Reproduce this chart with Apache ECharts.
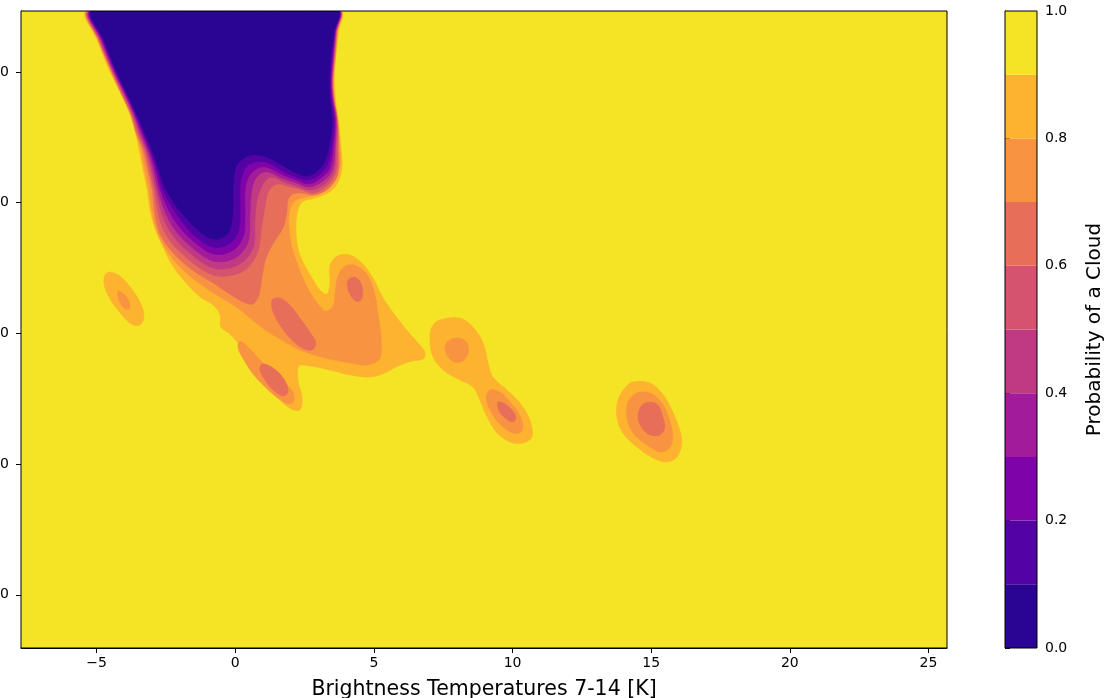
<!DOCTYPE html>
<html>
<head>
<meta charset="utf-8">
<title>Probability of a Cloud</title>
<script src="https://cdn.jsdelivr.net/npm/echarts@6/dist/echarts.min.js"></script>
<style>
  html, body { margin: 0; padding: 0; background: #fff; }
  #chart { width: 1109px; height: 698px; }
</style>
</head>
<body>
<div id="chart"></div>
<script>
// Field extent (brightness temperature difference, brightness temperature)
const fieldX = [-7.73, 25.67];
const fieldY = [245.93, 294.67];

// Axis ticks
const xTicks = [-5, 0, 5, 10, 15, 20, 25];
const yTicks = [250, 260, 270, 280, 290];

// Contour levels and plasma band colours (one colour per band)
const levels = [0, 0.1, 0.2, 0.3, 0.4, 0.5, 0.6, 0.7, 0.8, 0.9, 1.0];
const bandColors = ['#2a0593', '#5302a3', '#7e03a8', '#a11b9b', '#c03a83',
                    '#d5536f', '#e76f5a', '#f89441', '#fdb32f', '#f4e425'];

// Regions where the probability is below each level, [x, y] outlines
const below10 = [
  [[-5.13,294.67],[-4.73,292.45],[-4.27,290.00],[-3.87,288.24],[-3.54,286.71],[-3.26,285.33],[-3.00,284.03],[-2.79,282.73],[-2.57,281.36],[-2.28,280.21],[-1.81,278.91],[-1.27,277.76],[-0.80,277.22],[-0.37,277.45],[-0.16,278.22],[-0.08,279.67],[-0.08,281.36],[-0.01,282.49],[0.17,283.19],[0.60,283.65],[1.11,283.50],[1.68,282.88],[2.19,282.27],[2.59,282.04],[2.95,282.42],[3.23,283.19],[3.41,284.64],[3.49,286.33],[3.41,288.01],[3.38,289.39],[3.45,291.30],[3.56,293.06],[3.67,294.67]]
];
const below20 = [
  [[-5.16,294.67],[-4.77,292.45],[-4.30,290.00],[-3.91,288.24],[-3.58,286.71],[-3.31,285.33],[-3.06,284.03],[-2.84,282.66],[-2.61,280.97],[-2.35,279.90],[-1.96,278.68],[-1.45,277.45],[-0.80,276.61],[-0.23,276.84],[0.10,277.76],[0.17,279.44],[0.17,281.13],[0.24,282.12],[0.42,282.81],[0.71,283.11],[1.11,283.11],[1.65,282.49],[2.19,281.97],[2.62,281.74],[3.02,282.12],[3.31,282.88],[3.49,284.49],[3.56,286.33],[3.45,288.01],[3.43,289.39],[3.49,291.30],[3.58,293.06],[3.68,294.67]]
];
const below30 = [
  [[-5.18,294.67],[-4.81,292.45],[-4.34,290.00],[-3.94,288.24],[-3.62,286.71],[-3.36,285.33],[-3.11,284.03],[-2.90,282.66],[-2.70,280.97],[-2.46,279.67],[-2.10,278.37],[-1.56,277.15],[-0.80,276.08],[-0.12,276.31],[0.28,277.37],[0.35,279.29],[0.35,280.82],[0.46,281.89],[0.75,282.58],[1.11,282.73],[1.65,282.20],[2.19,281.74],[2.66,281.43],[3.09,281.89],[3.41,282.66],[3.54,284.41],[3.60,286.33],[3.49,288.01],[3.45,289.39],[3.52,291.30],[3.60,293.06],[3.70,294.67]]
];
const below40 = [
  [[-5.21,294.67],[-4.84,292.45],[-4.37,290.00],[-3.98,288.24],[-3.65,286.71],[-3.42,285.33],[-3.17,284.03],[-2.97,282.66],[-2.79,280.97],[-2.57,279.52],[-2.25,278.14],[-1.71,276.84],[-0.80,275.54],[-0.01,275.77],[0.46,276.99],[0.53,279.06],[0.57,280.59],[0.67,281.58],[0.89,282.20],[1.18,282.35],[1.68,281.89],[2.19,281.51],[2.69,281.20],[3.16,281.66],[3.49,282.49],[3.60,284.34],[3.63,286.33],[3.51,288.01],[3.47,289.39],[3.54,291.30],[3.62,293.06],[3.71,294.67]]
];
const below50 = [
  [[-5.23,294.67],[-4.88,292.45],[-4.41,290.00],[-4.01,288.24],[-3.69,286.71],[-3.47,285.33],[-3.22,284.03],[-3.04,282.66],[-2.86,280.97],[-2.68,279.37],[-2.39,277.91],[-1.85,276.53],[-0.80,275.00],[0.10,275.23],[0.64,276.53],[0.71,278.68],[0.78,280.21],[0.93,281.13],[1.11,281.74],[1.32,281.97],[1.76,281.58],[2.19,281.28],[2.73,280.97],[3.23,281.43],[3.56,282.42],[3.63,284.26],[3.65,286.33],[3.52,288.01],[3.49,289.39],[3.56,291.30],[3.63,293.06],[3.73,294.67]]
];
const below60 = [
  [[-5.26,294.67],[-4.92,292.45],[-4.43,290.00],[-4.05,288.24],[-3.73,286.71],[-3.52,285.33],[-3.27,284.03],[-3.11,282.66],[-2.93,280.97],[-2.79,279.21],[-2.54,277.68],[-1.99,276.23],[-0.80,274.47],[0.24,274.70],[0.78,276.08],[0.96,278.29],[1.07,279.67],[1.18,280.74],[1.36,281.28],[1.61,281.43],[1.97,281.20],[2.33,281.05],[2.80,280.74],[3.31,281.28],[3.63,282.35],[3.69,284.19],[3.67,286.33],[3.54,288.01],[3.51,289.39],[3.58,291.30],[3.65,293.06],[3.74,294.67]]
];
const below70 = [
  [[-5.28,294.67],[-4.93,292.45],[-4.46,290.00],[-4.09,288.24],[-3.76,286.71],[-3.58,285.33],[-3.33,284.03],[-3.18,282.66],[-3.00,280.97],[-2.90,279.14],[-2.68,277.45],[-2.14,275.92],[-1.45,274.70],[-0.80,273.86],[-0.26,273.09],[0.28,272.40],[0.64,272.25],[0.85,272.94],[0.96,274.24],[1.11,275.77],[1.40,276.99],[1.72,278.06],[1.86,279.29],[1.90,280.21],[2.08,280.67],[2.41,280.74],[2.87,280.59],[3.38,281.13],[3.70,282.20],[3.72,284.19],[3.69,286.33],[3.56,288.01],[3.52,289.39],[3.60,291.30],[3.67,293.06],[3.75,294.67]],
  [[1.32,272.56],[1.61,272.71],[1.97,272.17],[2.33,271.18],[2.69,270.11],[2.91,269.27],[2.77,268.73],[2.41,268.88],[1.97,269.65],[1.61,270.64],[1.36,271.64]],
  [[4.10,274.16],[4.31,274.31],[4.53,273.86],[4.60,273.09],[4.50,272.48],[4.28,272.56],[4.10,273.17],[4.03,273.78]],
  [[0.96,267.66],[1.25,267.51],[1.58,266.97],[1.83,266.21],[1.90,265.52],[1.72,265.21],[1.36,265.67],[1.07,266.43],[0.89,267.20]],
  [[9.47,264.75],[9.73,264.60],[10.01,264.06],[10.12,263.45],[9.98,263.22],[9.73,263.53],[9.51,264.06]],
  [[14.67,264.52],[14.96,264.75],[15.24,264.52],[15.42,263.61],[15.49,262.76],[15.31,262.23],[14.96,262.23],[14.67,262.76],[14.52,263.61]]
];
const below80 = [
  [[-5.31,294.67],[-4.95,292.45],[-4.48,290.00],[-4.12,288.39],[-3.80,286.94],[-3.60,285.56],[-3.40,284.03],[-3.26,282.49],[-3.11,280.97],[-3.00,279.29],[-2.82,277.76],[-2.43,276.23],[-1.89,274.85],[-1.27,273.78],[-0.62,272.86],[-0.01,272.10],[0.53,271.18],[1.07,270.26],[1.61,269.57],[2.33,268.73],[3.23,268.12],[4.14,267.74],[4.79,267.58],[5.22,268.12],[5.25,269.88],[5.15,271.41],[5.04,272.94],[4.79,274.39],[4.39,275.16],[3.96,275.16],[3.70,274.39],[3.60,273.17],[3.52,272.10],[3.27,271.71],[2.95,272.33],[2.59,273.55],[2.30,275.00],[2.05,276.53],[1.94,278.06],[1.97,279.44],[2.19,280.21],[2.69,280.51],[3.23,280.89],[3.56,281.58],[3.78,282.81],[3.78,284.19],[3.70,285.95],[3.58,287.86],[3.54,289.39],[3.62,291.30],[3.69,293.06],[3.77,294.67]],
  [[0.17,269.42],[0.53,268.81],[0.96,267.81],[1.40,266.89],[1.83,266.13],[2.08,265.52],[2.12,264.83],[1.94,264.60],[1.58,264.98],[1.11,265.82],[0.64,266.89],[0.31,267.96],[0.10,268.88]],
  [[-4.23,273.24],[-4.01,273.01],[-3.83,272.40],[-3.83,271.87],[-4.01,271.94],[-4.20,272.56]],
  [[7.74,269.50],[8.10,269.65],[8.36,269.27],[8.40,268.50],[8.21,267.89],[7.89,267.81],[7.63,268.35],[7.56,269.04]],
  [[9.19,265.67],[9.55,265.52],[9.91,264.75],[10.20,263.99],[10.38,262.99],[10.27,262.38],[9.91,262.46],[9.47,263.22],[9.19,264.14],[9.04,265.06]],
  [[14.48,265.44],[14.96,265.44],[15.39,264.67],[15.67,263.36],[15.78,262.07],[15.67,261.23],[15.31,260.93],[14.85,261.46],[14.34,262.38],[14.12,263.61],[14.16,264.75]]
];
const below90 = [
  [[-5.35,294.67],[-4.99,292.45],[-4.52,290.00],[-4.16,288.47],[-3.87,287.09],[-3.65,285.72],[-3.47,284.03],[-3.33,282.49],[-3.18,280.97],[-3.08,279.44],[-2.90,278.06],[-2.64,276.76],[-2.28,275.23],[-1.81,273.93],[-1.27,272.79],[-0.80,272.17],[-0.55,271.41],[-0.52,270.49],[-0.19,269.95],[0.24,268.88],[0.64,267.66],[1.07,266.28],[1.54,265.06],[2.01,264.22],[2.33,264.14],[2.41,265.06],[2.26,266.43],[2.30,267.51],[2.69,267.51],[3.41,267.20],[4.14,266.82],[4.86,266.66],[5.39,266.97],[5.87,267.51],[6.38,267.89],[6.77,268.04],[6.84,268.58],[6.59,269.27],[6.12,270.42],[5.65,271.71],[5.29,272.86],[4.97,274.24],[4.60,275.31],[4.14,276.00],[3.67,275.92],[3.41,275.16],[3.41,273.93],[3.31,273.01],[3.05,273.32],[2.77,274.24],[2.44,275.46],[2.26,276.53],[2.19,277.91],[2.23,279.21],[2.41,280.05],[2.87,280.36],[3.34,280.74],[3.67,281.43],[3.85,282.66],[3.81,284.19],[3.74,285.95],[3.62,287.86],[3.58,290.00],[3.72,293.06],[3.78,294.67]],
  [[-4.52,274.70],[-4.16,274.39],[-3.76,273.47],[-3.44,272.40],[-3.29,271.33],[-3.44,270.64],[-3.76,270.72],[-4.12,271.48],[-4.52,272.63],[-4.73,273.70],[-4.70,274.47]],
  [[7.38,271.03],[8.10,271.18],[8.57,270.49],[8.94,269.27],[9.12,267.74],[9.29,266.66],[9.80,265.67],[10.27,264.67],[10.63,263.36],[10.70,262.07],[10.38,261.61],[9.91,261.69],[9.44,262.38],[9.08,263.61],[8.82,264.90],[8.57,265.90],[8.10,266.43],[7.49,267.20],[7.13,268.19],[7.02,269.50],[7.09,270.49]],
  [[14.34,266.28],[14.96,266.21],[15.39,265.44],[15.75,264.14],[16.03,262.61],[16.11,261.61],[15.93,260.54],[15.56,260.16],[15.06,260.47],[14.48,261.31],[13.98,262.38],[13.76,263.61],[13.80,264.90],[14.05,265.82]]
];

const regionsByLevel = [below10, below20, below30, below40, below50,
                        below60, below70, below80, below90];

const xTitle = 'Brightness Temperatures 7-14 [K]';
const cbTitle = 'Probability of a Cloud';

// Draw outer (higher) levels first so inner regions sit on top
const contourItems = [];
for (let k = regionsByLevel.length - 1; k >= 0; k--) {
  regionsByLevel[k].forEach((_, i) => contourItems.push([k, i]));
}
const bandItems = bandColors.map((_, i) => [levels[i], levels[i + 1], i]);

const font = 'DejaVu Sans';
const chart = echarts.init(document.getElementById('chart'), null, { renderer: 'canvas' });

function clipBox(cs) {
  return [[cs.x, cs.y], [cs.x + cs.width, cs.y + cs.height]];
}

chart.setOption({
  animation: false,
  backgroundColor: '#fff',
  grid: [
    { left: 21, top: 11, right: 162, bottom: 50, containLabel: false, outerBoundsMode: 'none',
      show: true, borderColor: '#000', borderWidth: 1, backgroundColor: 'transparent', z: 10 },
    { left: 1005, top: 11, width: 32, bottom: 50, containLabel: false, outerBoundsMode: 'none',
      show: true, borderColor: '#000', borderWidth: 1, backgroundColor: 'transparent', z: 10 }
  ],
  xAxis: [
    {
      type: 'value', gridIndex: 0, min: fieldX[0], max: fieldX[1],
      splitLine: { show: false },
      axisLine: { show: true, onZero: false, lineStyle: { color: '#000', width: 1 } },
      axisTick: { show: true, length: 5, inside: false, customValues: xTicks, lineStyle: { color: '#000' } },
      axisLabel: {
        customValues: xTicks, margin: 8, fontFamily: font, fontSize: 14, color: '#000',
        formatter: v => String(v).replace('-', '\u2212')
      },
      name: xTitle, nameLocation: 'middle', nameGap: 31,
      nameTextStyle: { fontFamily: font, fontSize: 20.5, color: '#000' }
    },
    {
      type: 'value', gridIndex: 1, min: 0, max: 1, show: false
    }
  ],
  yAxis: [
    {
      type: 'value', gridIndex: 0, min: fieldY[0], max: fieldY[1],
      splitLine: { show: false },
      axisLine: { show: true, onZero: false, lineStyle: { color: '#000', width: 1 } },
      axisTick: { show: true, length: 5, inside: false, customValues: yTicks, lineStyle: { color: '#000' } },
      axisLabel: { customValues: yTicks, margin: 12, fontFamily: font, fontSize: 14, color: '#000' }
    },
    {
      type: 'value', gridIndex: 1, min: 0, max: 1, interval: 0.2, position: 'right',
      splitLine: { show: false },
      axisLine: { show: true, lineStyle: { color: '#000', width: 1 } },
      axisTick: { show: true, length: 5, inside: false, lineStyle: { color: '#000' } },
      axisLabel: { margin: 8, fontFamily: font, fontSize: 14, color: '#000', formatter: v => v.toFixed(1) },
      name: cbTitle, nameLocation: 'middle', nameRotate: 90, nameGap: 48,
      nameTextStyle: { fontFamily: font, fontSize: 20, color: '#000' }
    }
  ],
  series: [
    {
      // highest band fills the whole field
      type: 'custom', xAxisIndex: 0, yAxisIndex: 0, silent: true,
      data: [[0]],
      renderItem: (params, api) => {
        const p0 = api.coord([fieldX[0], fieldY[1]]);
        const p1 = api.coord([fieldX[1], fieldY[0]]);
        return {
          type: 'rect',
          shape: { x: p0[0], y: p0[1], width: p1[0] - p0[0], height: p1[1] - p0[1] },
          style: { fill: bandColors[9] }
        };
      }
    },
    {
      type: 'custom', xAxisIndex: 0, yAxisIndex: 0, silent: true, clip: true,
      data: contourItems,
      renderItem: (params, api) => {
        const k = api.value(0);
        const poly = regionsByLevel[k][api.value(1)];
        const pts = poly.map(p => api.coord(p));
        return {
          type: 'polygon',
          shape: { points: pts, smooth: 0.35, smoothConstraint: clipBox(params.coordSys) },
          style: { fill: bandColors[k], stroke: bandColors[k], lineWidth: 0.5 }
        };
      }
    },
    {
      type: 'custom', xAxisIndex: 1, yAxisIndex: 1, silent: true,
      data: bandItems,
      renderItem: (params, api) => {
        const lo = api.coord([0, api.value(0)]);
        const hi = api.coord([1, api.value(1)]);
        return {
          type: 'rect',
          shape: { x: lo[0], y: hi[1], width: hi[0] - lo[0], height: lo[1] - hi[1] },
          style: { fill: bandColors[api.value(2)] }
        };
      }
    }
  ]
});
</script>
</body>
</html>
